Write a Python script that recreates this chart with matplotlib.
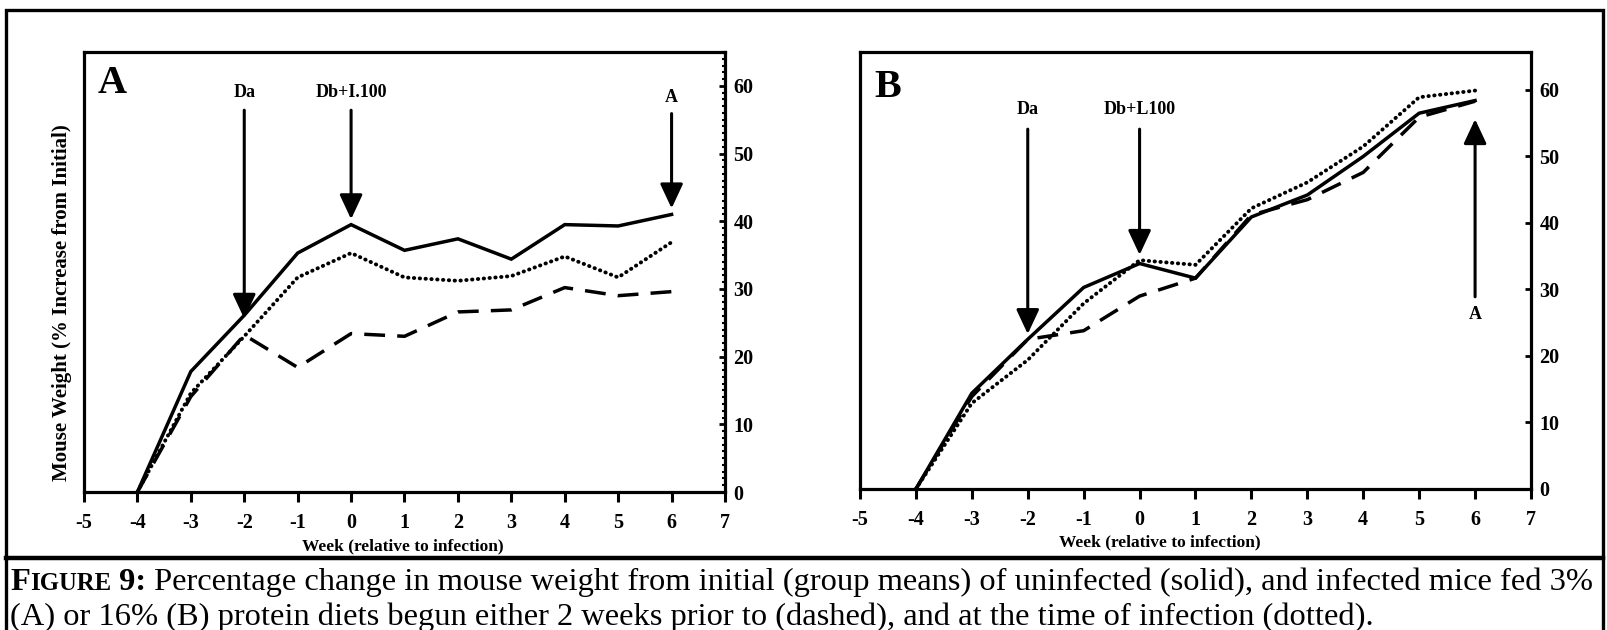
import numpy as np
import matplotlib
matplotlib.use('Agg')
import matplotlib.pyplot as plt
from matplotlib.ticker import MultipleLocator
from matplotlib.patches import Rectangle
from matplotlib.lines import Line2D

plt.rcParams['font.family'] = ['Liberation Serif', 'DejaVu Serif']
plt.rcParams['axes.unicode_minus'] = False

# data
weeks = [-4, -3, -2, -1, 0, 1, 2, 3, 4, 5, 6]
a_solid = [0, 17.8, 26.1, 35.3, 39.5, 35.7, 37.4, 34.4, 39.5, 39.3, 41.0]
a_dashed = [0, 14.1, 23.2, 18.4, 23.4, 23.0, 26.6, 26.9, 30.2, 29.0, 29.6]
a_dotted = [0, 14.6, 23.0, 31.7, 35.3, 31.7, 31.2, 31.9, 34.8, 31.7, 36.9]
b_solid = [0, 14.4, 22.5, 30.3, 33.9, 31.7, 40.9, 44.2, 50.0, 56.5, 58.4]
b_dashed = [0, 13.9, 22.5, 23.8, 29.0, 31.7, 41.2, 43.5, 47.6, 55.9, 58.3]
b_dotted = [0, 12.9, 19.4, 27.9, 34.4, 33.7, 42.2, 46.1, 51.5, 58.9, 59.9]
x_ticks = list(range(-5, 8))
y_ticks = [0, 10, 20, 30, 40, 50, 60]

a_marks = ['Da', 'Db+I.100', 'A']
b_marks = ['Da', 'Db+L100', 'A']
mark_weeks = [-2, 0, 6]

caption1 = ' Percentage change in mouse weight from initial (group means) of uninfected (solid), and infected mice fed 3%'
caption2 = '(A) or 16% (B) protein diets begun either 2 weeks prior to (dashed), and at the time of infection (dotted).'

W, H = 1608, 630
fig = plt.figure(figsize=(W / 100, H / 100), dpi=100)


def box(l, t, r, b):
    return [l / W, 1 - b / H, (r - l) / W, (b - t) / H]


def setup(ax, ymax, minor, xlab_x):
    ax.set_xlim(-5, 7)
    ax.set_ylim(0, ymax)
    for s in ax.spines.values():
        s.set_linewidth(2.3)
    ax.yaxis.tick_right()
    ax.set_xticks(x_ticks, labels=[str(v) for v in x_ticks],
                  fontsize=14.5, fontweight='bold')
    ax.set_yticks(y_ticks, labels=[str(v) for v in y_ticks],
                  fontsize=14.5, fontweight='bold')
    ax.tick_params(axis='x', direction='out', length=7, width=2.2, pad=8)
    ax.tick_params(axis='y', direction='in', length=4, width=2, pad=6)
    if minor:
        ax.yaxis.set_minor_locator(MultipleLocator(1))
        ax.tick_params(axis='y', which='minor', direction='in', length=2,
                       width=1.5, right=True, left=False)
    ax.set_xlabel('Week (relative to infection)', fontsize=12.5,
                  fontweight='bold')
    ax.xaxis.set_label_coords(xlab_x, -0.105)


def draw_lines(ax, solid, dashed, dotted):
    ax.plot(weeks, solid, color='black', lw=2.5, solid_joinstyle='miter')
    ax.plot(weeks, dashed, color='black', lw=2.5, ls=(0, (6, 3.5)))
    ax.plot(weeks, dotted, color='black', lw=2.8, ls=(0, (0.1, 1.4)),
            dash_capstyle='round')


def arrow(ax, x, y0, y1):
    ax.annotate('', xy=(x, y1), xytext=(x, y0),
                arrowprops=dict(arrowstyle='-|>,head_length=0.75,head_width=0.35',
                                mutation_scale=20, lw=2.2, color='black',
                                shrinkA=0, shrinkB=0))


# panel A
axA = fig.add_axes(box(84, 52, 725, 492))
setup(axA, 65, True, 0.498)
draw_lines(axA, a_solid, a_dashed, a_dotted)
axA.text(-4.74, 60.3, 'A', fontsize=29, fontweight='bold', va='center', ha='left')
axA.text(mark_weeks[0], 59, a_marks[0], fontsize=13, fontweight='bold', ha='center', va='center')
axA.text(mark_weeks[1], 59, a_marks[1], fontsize=13, fontweight='bold', ha='center', va='center')
axA.text(mark_weeks[2], 58.3, a_marks[2], fontsize=13, fontweight='bold', ha='center', va='center')
arrow(axA, mark_weeks[0], 56.4, 25.6)
arrow(axA, mark_weeks[1], 56.4, 40.3)
arrow(axA, mark_weeks[2], 55.9, 41.9)
axA.text(-0.034, 0.43, 'Mouse Weight (% Increase from Initial)', transform=axA.transAxes,
         rotation=90, fontsize=15, fontweight='bold', ha='center', va='center')

# panel B
axB = fig.add_axes(box(860, 52, 1531, 489))
setup(axB, 65.7, False, 0.447)
draw_lines(axB, b_solid, b_dashed, b_dotted)
axB.text(-4.74, 60.3, 'B', fontsize=29, fontweight='bold', va='center', ha='left')
axB.text(mark_weeks[0], 57.1, b_marks[0], fontsize=13, fontweight='bold', ha='center', va='center')
axB.text(mark_weeks[1], 57.1, b_marks[1], fontsize=13, fontweight='bold', ha='center', va='center')
axB.text(mark_weeks[2], 26.3, b_marks[2], fontsize=13, fontweight='bold', ha='center', va='center')
arrow(axB, mark_weeks[0], 54.1, 23.3)
arrow(axB, mark_weeks[1], 54.1, 35.2)
arrow(axB, mark_weeks[2], 28.9, 55.6)

# outer frame and caption divider
fig.add_artist(Rectangle((6 / W, -0.01), (1603 - 6) / W, 1.01 - 10 / H,
                         transform=fig.transFigure, fill=False, lw=2.4, color='black'))
fig.add_artist(Line2D([6 / W, 1603 / W], [1 - 558 / H] * 2, transform=fig.transFigure,
                      lw=3.2, color='black'))

# caption with small caps "FIGURE"
cs = 23.4
y1 = 1 - 590 / H
y2 = 1 - 625 / H
t1 = fig.text(10 / W, y1, 'F', fontsize=cs, fontweight='bold', va='baseline')
t2 = fig.text(0, 0, 'IGURE', fontsize=cs * 0.76, fontweight='bold', va='baseline')
t3 = fig.text(0, 0, ' 9:', fontsize=cs, fontweight='bold', va='baseline')
fig.canvas.draw()
r = fig.canvas.get_renderer()
x = t1.get_window_extent(r).x1
t2.set_position((x / W, y1))
x = t2.get_window_extent(r).x1
t3.set_position((x / W, y1))
x = t3.get_window_extent(r).x1
fig.text(x / W, y1, caption1, fontsize=cs, va='baseline')
fig.text(10 / W, y2, caption2, fontsize=cs, va='baseline')

fig.savefig('out.png', dpi=100)
